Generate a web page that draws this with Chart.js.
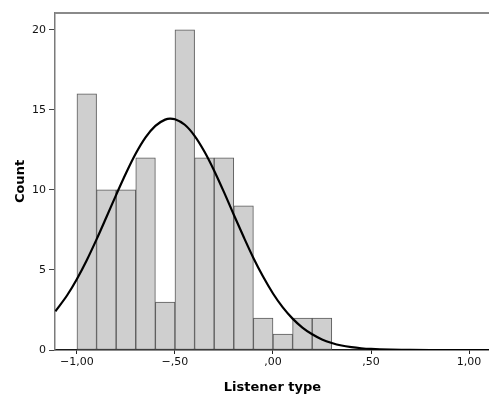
<!DOCTYPE html>
<html>
<head>
<meta charset="utf-8">
<script src="https://cdn.jsdelivr.net/npm/chart.js@4/dist/chart.umd.min.js"></script>
<style>
html,body{margin:0;padding:0;background:#fff;overflow:hidden;}
canvas{display:block;}
</style>
</head>
<body>
<canvas id="c" width="493" height="397"></canvas>
<script>
// Histogram bins (lower edge, width 0.1) and counts
const binLower = [-1.0, -0.9, -0.8, -0.7, -0.6, -0.5, -0.4, -0.3, -0.2, -0.1, 0.0, 0.1, 0.2];
const counts   = [16, 10, 10, 12, 3, 20, 12, 12, 9, 2, 1, 2, 2];
const binWidth = 0.1;

// Normal curve
const curveX = [-1.11, -1.05, -1.0, -0.95, -0.9, -0.85, -0.8, -0.75, -0.7, -0.65, -0.6, -0.55, -0.525, -0.5, -0.45, -0.4, -0.35, -0.3, -0.25, -0.2, -0.15, -0.1, -0.05, 0.0, 0.05, 0.1, 0.15, 0.2, 0.25, 0.3, 0.35, 0.4, 0.45, 0.5, 0.6, 0.7, 0.8, 0.9, 1.0, 1.11];
const curveY = [2.42, 3.42, 4.44, 5.61, 6.91, 8.29, 9.69, 11.04, 12.27, 13.28, 14.0, 14.39, 14.45, 14.41, 14.07, 13.38, 12.4, 11.2, 9.86, 8.45, 7.07, 5.75, 4.57, 3.53, 2.66, 1.96, 1.4, 0.98, 0.66, 0.44, 0.28, 0.18, 0.11, 0.065, 0.02, 0.006, 0.001, 0.0, 0.0, 0.0];

// Axis ticks
const xTickValues = [-1.0, -0.5, 0.0, 0.5, 1.0];
const xTickLabels = ['\u22121,00', '\u2212,50', ',00', ',50', '1,00'];
const yTickValues = [0, 5, 10, 15, 20];

const xTitle = 'Listener type';
const yTitle = 'Count';

Chart.defaults.font.family = "'DejaVu Sans', sans-serif";
Chart.defaults.color = '#111';

const topBorder = {
  id: 'topBorder',
  afterDraw(chart) {
    const {ctx, chartArea: a} = chart;
    ctx.save();
    ctx.strokeStyle = '#8a8a8a';
    ctx.lineWidth = 2;
    ctx.beginPath();
    ctx.moveTo(a.left, a.top);
    ctx.lineTo(a.right + 5, a.top);
    ctx.stroke();
    ctx.restore();
  }
};

new Chart(document.getElementById('c'), {
  type: 'bar',
  data: {
    datasets: [
      {
        type: 'line',
        data: curveX.map((x, i) => ({x: x, y: curveY[i]})),
        borderColor: '#000',
        borderWidth: 2.2,
        pointRadius: 0,
        cubicInterpolationMode: 'monotone',
        fill: false,
        order: 0
      },
      {
        type: 'bar',
        data: binLower.map((b, i) => ({x: b + binWidth / 2, y: counts[i]})),
        backgroundColor: '#cfcfcf',
        borderColor: '#5a5a5a',
        borderWidth: 1,
        borderSkipped: false,
        barPercentage: 1.0,
        categoryPercentage: 1.0,
        grouped: false,
        order: 1
      }
    ]
  },
  options: {
    responsive: false,
    animation: false,
    events: [],
    layout: {padding: {top: 13, right: 3, left: 0, bottom: 0}},
    plugins: {legend: {display: false}, tooltip: {enabled: false}},
    scales: {
      x: {
        type: 'linear',
        min: -1.112,
        max: 1.107,
        offset: false,
        afterBuildTicks: s => { s.ticks = xTickValues.map(v => ({value: v})); },
        afterFit: s => { s.height = 47; },
        ticks: {
          autoSkip: false,
          maxRotation: 0,
          padding: 2,
          font: {size: 11},
          color: '#111',
          callback: (v, i) => xTickLabels[i]
        },
        grid: {display: true, offset: false, drawOnChartArea: false, drawTicks: true, tickLength: 4, color: '#222', lineWidth: 1},
        border: {display: true, color: '#1a1a1a', width: 1.5},
        title: {display: true, text: xTitle, font: {size: 13, weight: 'bold'}, color: '#000', padding: {top: 0, bottom: 2}}
      },
      y: {
        type: 'linear',
        min: 0,
        max: 21.05,
        afterBuildTicks: s => { s.ticks = yTickValues.map(v => ({value: v})); },
        afterFit: s => { s.width = 55; },
        ticks: {padding: 3, font: {size: 11}, color: '#111'},
        grid: {display: true, offset: false, drawOnChartArea: false, drawTicks: true, tickLength: 6, color: '#444', lineWidth: 1},
        border: {display: true, color: '#7a7a7a', width: 1.5},
        title: {display: true, text: yTitle, font: {size: 13, weight: 'bold'}, color: '#000', padding: {top: 13, bottom: 0}}
      }
    }
  },
  plugins: [topBorder]
});
</script>
</body>
</html>
